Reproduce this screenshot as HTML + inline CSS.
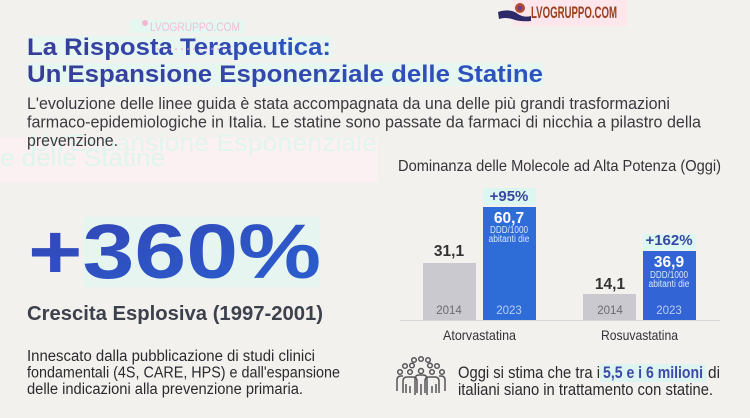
<!DOCTYPE html>
<html><head><meta charset="utf-8"><style>
html,body{margin:0;padding:0;background:#f3f1ee;}
svg{display:block;}
text{font-family:"Liberation Sans",sans-serif;}
</style></head><body>
<svg width="750" height="418" viewBox="0 0 750 418" xmlns="http://www.w3.org/2000/svg">
<defs>
<linearGradient id="tg" x1="0" y1="0" x2="1" y2="0"><stop offset="0" stop-color="#383c98"/><stop offset="1" stop-color="#2d55c2"/></linearGradient>
<linearGradient id="bg360" x1="0" y1="0" x2="1" y2="1"><stop offset="0" stop-color="#3444b4"/><stop offset="1" stop-color="#2a60d0"/></linearGradient>
</defs>
<rect width="750" height="418" fill="#f3f1ee"/>

<!-- ghost artifacts -->
<rect x="0" y="138" width="377" height="44" fill="#fbf0f2"/>
<text x="30" y="151" font-size="24" fill="#e0f5ee" textLength="347" lengthAdjust="spacingAndGlyphs">Un'Espansione Esponenziale</text>
<text x="0" y="166" font-size="24" fill="#ddf5ec" textLength="165" lengthAdjust="spacingAndGlyphs">e delle Statine</text>
<rect x="130" y="20" width="115" height="13" fill="#e4f7f1"/>
<circle cx="145" cy="23" r="3" fill="#f6b6d2"/>
<text x="150" y="31" font-size="12" fill="#f4bcd4" font-family="Liberation Sans Narrow, Liberation Sans, sans-serif" textLength="90" lengthAdjust="spacingAndGlyphs">LVOGRUPPO.COM</text>
<rect x="27" y="36" width="305" height="22" fill="#e8f6f2"/>
<rect x="27" y="63" width="517" height="23" fill="#e6f6f1"/>

<!-- logo -->
<rect x="513" y="0" width="114" height="26" fill="#fde7ec"/>
<path d="M498 12 Q510 8 518 14 Q524 18 531 16 L531 21 Q520 22 512 19 Q505 17 499 19 Z" fill="#2e2a6a"/>
<circle cx="520" cy="8" r="5" fill="#b0502a"/>
<circle cx="520" cy="8" r="2.5" fill="#7a3a8a"/>
<text x="531" y="18" font-size="17" font-weight="bold" fill="#9a3e1c" font-family="Liberation Sans Narrow, Liberation Sans, sans-serif" textLength="86" lengthAdjust="spacingAndGlyphs">LVOGRUPPO.COM</text>

<!-- title -->
<text x="27" y="55" font-size="24" font-weight="bold" fill="url(#tg)" textLength="304" lengthAdjust="spacingAndGlyphs">La Risposta Terapeutica:</text>
<line x1="157" y1="49" x2="233" y2="49" stroke="#f3a0d0" stroke-width="1" stroke-dasharray="2 4"/>
<text x="27" y="82" font-size="24" font-weight="bold" fill="url(#tg)" textLength="516" lengthAdjust="spacingAndGlyphs">Un'Espansione Esponenziale delle Statine</text>

<!-- intro paragraph -->
<g font-size="16.5" fill="#3a3a3f">
<text x="27" y="109" textLength="643" lengthAdjust="spacingAndGlyphs">L'evoluzione delle linee guida è stata accompagnata da una delle più grandi trasformazioni</text>
<text x="27" y="127.5" textLength="674" lengthAdjust="spacingAndGlyphs">farmaco-epidemiologiche in Italia. Le statine sono passate da farmaci di nicchia a pilastro della</text>
<text x="27" y="146" textLength="91" lengthAdjust="spacingAndGlyphs">prevenzione.</text>
</g>

<!-- big stat -->
<rect x="83" y="217" width="237" height="70" fill="#e6f5f0"/>
<text x="28" y="278" font-size="77" font-weight="bold" fill="url(#bg360)" textLength="293" lengthAdjust="spacingAndGlyphs">+360%</text>
<text x="27" y="320" font-size="20.5" font-weight="bold" fill="#3d414c" textLength="296" lengthAdjust="spacingAndGlyphs">Crescita Esplosiva (1997-2001)</text>
<g font-size="15.5" fill="#2a2a2e">
<text x="27" y="361" textLength="288" lengthAdjust="spacingAndGlyphs">Innescato dalla pubblicazione di studi clinici</text>
<text x="27" y="377.5" textLength="313" lengthAdjust="spacingAndGlyphs">fondamentali (4S, CARE, HPS) e dall'espansione</text>
<text x="27" y="394" textLength="276" lengthAdjust="spacingAndGlyphs">delle indicazioni alla prevenzione primaria.</text>
</g>

<!-- chart -->
<text x="398" y="171" font-size="16" fill="#333338" textLength="323" lengthAdjust="spacingAndGlyphs">Dominanza delle Molecole ad Alta Potenza (Oggi)</text>
<rect x="483" y="188" width="53" height="17" fill="#dcf6f1"/>
<rect x="643" y="234" width="53" height="16" fill="#dcf6f1"/>
<rect x="423" y="263" width="53" height="57" fill="#c9c9cf"/>
<rect x="483" y="207" width="53" height="113" fill="#2e6dd8"/>
<rect x="583" y="294" width="53" height="26" fill="#c9c9cf"/>
<rect x="643" y="251" width="53" height="69" fill="#3264d6"/>
<line x1="400" y1="320.5" x2="720" y2="320.5" stroke="#d6d6da" stroke-width="1"/>

<g text-anchor="middle">
<text x="509" y="201" font-size="15" font-weight="bold" fill="#3a47a0">+95%</text>
<text x="509" y="223" font-size="15.5" font-weight="bold" fill="#ffffff">60,7</text>
<text x="509" y="233" font-size="10" fill="#dbe5fb" textLength="38" lengthAdjust="spacingAndGlyphs">DDD/1000</text>
<text x="509" y="242" font-size="10" fill="#dbe5fb" textLength="41" lengthAdjust="spacingAndGlyphs">abitanti die</text>
<text x="509" y="314" font-size="11.5" fill="#b9cdf6">2023</text>
<text x="449" y="256" font-size="15.5" font-weight="bold" fill="#333">31,1</text>
<text x="449" y="314" font-size="11.5" fill="#6a6a70">2014</text>

<text x="669" y="245" font-size="15" font-weight="bold" fill="#3a47a0">+162%</text>
<text x="669" y="267" font-size="15.5" font-weight="bold" fill="#ffffff">36,9</text>
<text x="669" y="278" font-size="10" fill="#dbe5fb" textLength="38" lengthAdjust="spacingAndGlyphs">DDD/1000</text>
<text x="669" y="287" font-size="10" fill="#dbe5fb" textLength="41" lengthAdjust="spacingAndGlyphs">abitanti die</text>
<text x="669" y="314" font-size="11.5" fill="#b9cdf6">2023</text>
<text x="610" y="289" font-size="15.5" font-weight="bold" fill="#333">14,1</text>
<text x="610" y="314" font-size="11.5" fill="#6a6a70">2014</text>

<text x="479.5" y="340" font-size="14" fill="#333338" textLength="73" lengthAdjust="spacingAndGlyphs">Atorvastatina</text>
<text x="639.5" y="340" font-size="14" fill="#333338" textLength="77" lengthAdjust="spacingAndGlyphs">Rosuvastatina</text>
</g>

<!-- people icon -->
<g fill="none" stroke="#555559" stroke-width="1.5">
<circle cx="414" cy="360" r="2.3"/><circle cx="421" cy="359" r="2.3"/><circle cx="428" cy="360" r="2.3"/>
<circle cx="405" cy="366" r="2.3"/><circle cx="412" cy="365.5" r="2.3"/><circle cx="430" cy="365.5" r="2.3"/><circle cx="437" cy="366" r="2.3"/>
<circle cx="400" cy="372" r="2.3"/><circle cx="410" cy="372" r="2.3"/><circle cx="421" cy="371" r="2.5"/><circle cx="432" cy="372" r="2.3"/><circle cx="442" cy="372" r="2.3"/>
<path d="M397 391 V380 Q397 376 401 376 H403"/>
<path d="M445 391 V380 Q445 376 441 376 H439"/>
<path d="M403 393 V381 Q403 377 407 377 H413 Q417 377 417 381 V393"/>
<path d="M425 393 V381 Q425 377 429 377 H435 Q439 377 439 381 V393"/>
<path d="M415 395 V379 Q415 375 419 375 H423 Q427 375 427 379 V395 M421 384 V395"/>
<path d="M406 384 V393 M436 384 V393 M410 386 V393 M432 386 V393"/>
</g>

<!-- bottom right text -->
<rect x="600" y="364" width="106" height="18" fill="#ddf4f1"/>
<g font-size="16.5" fill="#2a2a2e">
<text x="458" y="378" textLength="142" lengthAdjust="spacingAndGlyphs">Oggi si stima che tra i</text>
<text x="603" y="378" font-weight="bold" fill="#3d4aa8" textLength="100" lengthAdjust="spacingAndGlyphs">5,5 e i 6 milioni</text>
<text x="708" y="378" textLength="12" lengthAdjust="spacingAndGlyphs">di</text>
<text x="458" y="395" textLength="255" lengthAdjust="spacingAndGlyphs">italiani siano in trattamento con statine.</text>
</g>
</svg>
</body></html>
